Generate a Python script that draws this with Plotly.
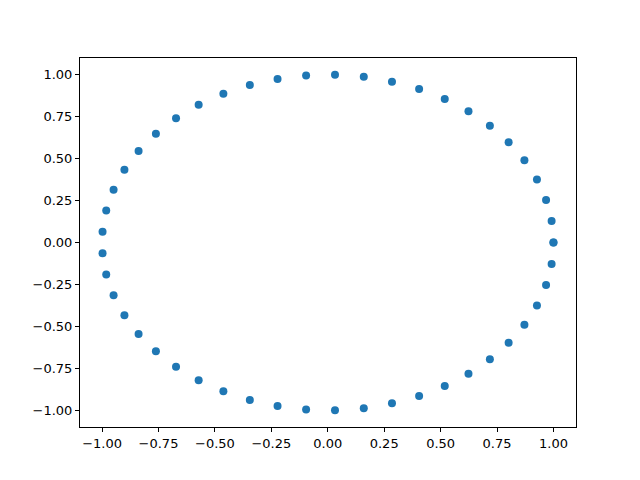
import plotly.graph_objects as go

x_vals = [1.0, 0.9918, 0.9673, 0.9269, 0.8713, 0.8014, 0.7183, 0.6235, 0.5183, 0.4047,
          0.2845, 0.1596, 0.0320, -0.0960, -0.2225, -0.3453, -0.4625, -0.5721, -0.6723, -0.7615,
          -0.8382, -0.9010, -0.9490, -0.9816, -0.9979, -0.9979, -0.9816, -0.9490, -0.9010, -0.8382,
          -0.7615, -0.6723, -0.5721, -0.4625, -0.3453, -0.2225, -0.0960, 0.0320, 0.1596, 0.2845,
          0.4047, 0.5183, 0.6235, 0.7183, 0.8014, 0.8713, 0.9269, 0.9673, 0.9918, 1.0]
y_vals = [0.0, 0.1279, 0.2537, 0.3752, 0.4907, 0.5981, 0.6957, 0.7818, 0.8551, 0.9145,
          0.9587, 0.9872, 0.9995, 0.9954, 0.9749, 0.9385, 0.8866, 0.8202, 0.7403, 0.6482,
          0.5453, 0.4339, 0.3151, 0.1910, 0.0641, -0.0641, -0.1910, -0.3151, -0.4339, -0.5453,
          -0.6482, -0.7403, -0.8202, -0.8866, -0.9385, -0.9749, -0.9954, -0.9995, -0.9872, -0.9587,
          -0.9145, -0.8551, -0.7818, -0.6957, -0.5981, -0.4907, -0.3752, -0.2537, -0.1279, 0.0]

x_ticks = [-1.0, -0.75, -0.5, -0.25, 0.0, 0.25, 0.5, 0.75, 1.0]
y_ticks = [-1.0, -0.75, -0.5, -0.25, 0.0, 0.25, 0.5, 0.75, 1.0]

fig = go.Figure(go.Scatter(
    x=x_vals, y=y_vals, mode="markers",
    marker=dict(size=8, color="#1f77b4", line=dict(width=0)),
))

axis_common = dict(
    showgrid=False, zeroline=False, showline=True, linecolor="black", linewidth=1,
    mirror=True, ticks="outside", ticklen=4, tickcolor="black", tickformat=".2f",
    tickfont=dict(family="DejaVu Sans", size=13, color="black"),
)
fig.update_xaxes(range=[-1.0978, 1.0999], tickvals=x_ticks, **axis_common)
fig.update_yaxes(range=[-1.0995, 1.0995], tickvals=y_ticks, **axis_common)

fig.update_layout(
    width=640, height=480,
    margin=dict(l=72, r=72, t=50, b=61),
    plot_bgcolor="white", paper_bgcolor="white",
    showlegend=False,
)

fig.write_html("out.html")
